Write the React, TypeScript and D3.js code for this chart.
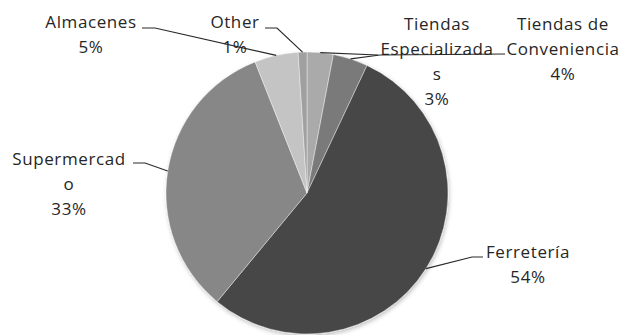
import React from "react";
import * as d3 from "d3";

const categories = [
  "Tiendas Especializadas",
  "Tiendas de Conveniencia",
  "Ferretería",
  "Supermercado",
  "Almacenes",
  "Other",
];
const values = [3, 4, 54, 33, 5, 1];
const nameLines = [
  ["Tiendas", "Especializada", "s"],
  ["Tiendas de", "Conveniencia"],
  ["Ferretería"],
  ["Supermercad", "o"],
  ["Almacenes"],
  ["Other"],
];

const colors = ["#aaaaaa", "#7a7a7a", "#464646", "#878787", "#c4c4c4", "#a0a0a0"];

// layout (label center x, first baseline y, leader start point, elbow)
const labelLayout = [
  { x: 437, y: 30, lx: 378, ly: 55, ex: 378, ey: 55 },
  { x: 563, y: 30, lx: 505, ly: 54, ex: 380, ey: 55 },
  { x: 528, y: 258, lx: 483, ly: 257, ex: 472, ey: 257 },
  { x: 69, y: 165, lx: 133, ly: 163, ex: 145, ey: 163 },
  { x: 91, y: 28, lx: 142, ly: 28, ex: 155, ey: 28 },
  { x: 235, y: 28, lx: 265, ly: 28, ex: 277, ey: 28 },
];

const W = 623;
const H = 335;
const cx = 307;
const cy = 193;
const R = 141;
const lineH = 25;

export default function App() {
  const total = d3.sum(values);
  const pie = d3.pie<number>().sort(null).startAngle(0).endAngle(2 * Math.PI);
  const arcs = pie(values);
  const arc = d3.arc<d3.PieArcDatum<number>>().innerRadius(0).outerRadius(R);
  const edge = d3.arc<d3.PieArcDatum<number>>().innerRadius(R).outerRadius(R);
  const fmt = (v: number) => `${Math.round((v / total) * 100)}%`;

  return (
    <svg
      width={W}
      height={H}
      style={{ position: "absolute", left: 0, top: 0, background: "#fff" }}
    >
      <defs>
        <filter id="sh" x="-10%" y="-10%" width="120%" height="120%">
          <feDropShadow dx="1" dy="2" stdDeviation="2" floodColor="#000" floodOpacity="0.25" />
        </filter>
      </defs>
      <g transform={`translate(${cx},${cy})`} filter="url(#sh)">
        {arcs.map((a, i) => (
          <path key={categories[i]} d={arc(a) || ""} fill={colors[i]} stroke="#ffffff" strokeWidth={0.4} />
        ))}
      </g>
      {arcs.map((a, i) => {
        const [px, py] = edge.centroid(a);
        const L = labelLayout[i];
        const pts: [number, number][] = [
          [L.lx, L.ly],
          [L.ex, L.ey],
          [cx + px, cy + py],
        ];
        return (
          <path
            key={"l" + i}
            d={d3.line()(pts) || ""}
            fill="none"
            stroke="#2a2a2a"
            strokeWidth={1.2}
          />
        );
      })}
      {arcs.map((a, i) => {
        const L = labelLayout[i];
        const lines = [...nameLines[i], fmt(values[i])];
        return (
          <text
            key={"t" + i}
            x={L.x}
            y={L.y}
            textAnchor="middle"
            fontFamily="'Open Sans', sans-serif"
            fontSize={17}
            letterSpacing={0.6}
            fill="#262626"
          >
            {lines.map((s, j) => (
              <tspan key={j} x={L.x} y={L.y + j * lineH}>
                {s}
              </tspan>
            ))}
          </text>
        );
      })}
    </svg>
  );
}
